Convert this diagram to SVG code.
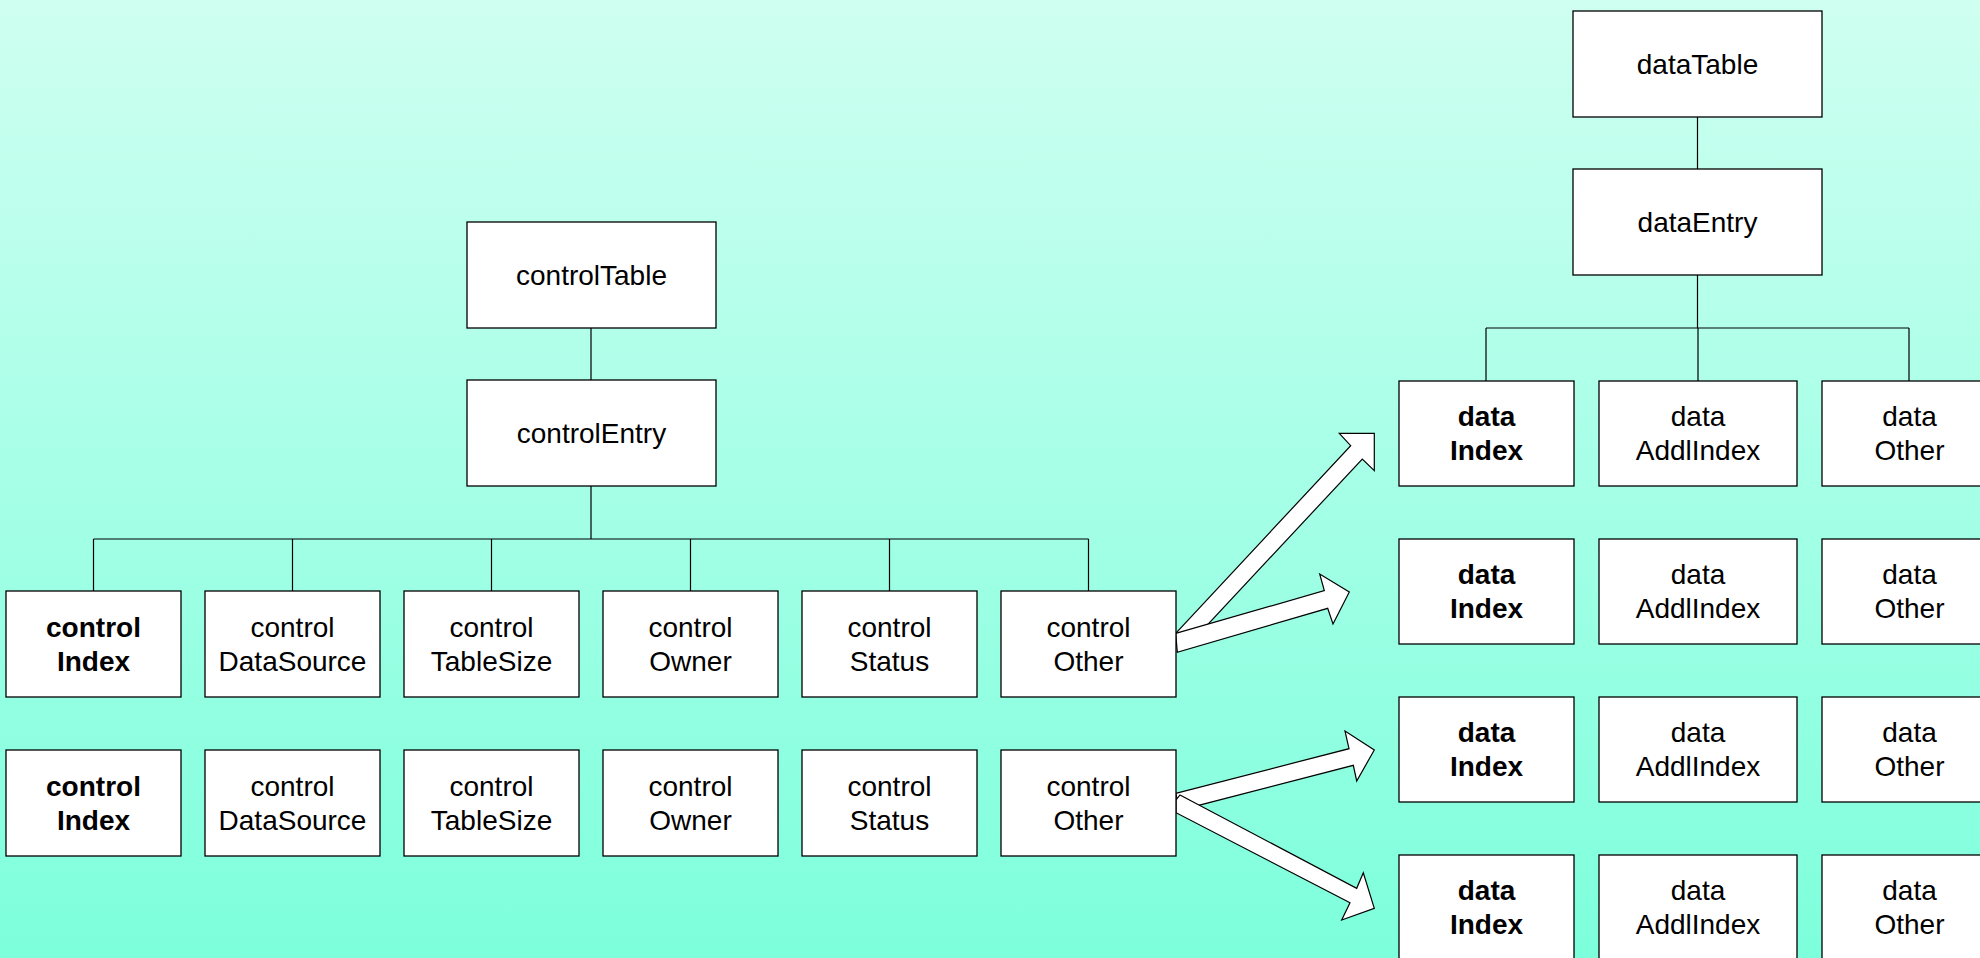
<svg xmlns="http://www.w3.org/2000/svg" width="1980" height="958" viewBox="0 0 1980 958">
<defs>
<linearGradient id="bg" x1="0" y1="0" x2="0" y2="1">
<stop offset="0" stop-color="#CFFFF1"/>
<stop offset="1" stop-color="#7DFFDC"/>
</linearGradient>
</defs>
<style>
.box{fill:#fff;stroke:#000;stroke-width:1.3}
.t{font-family:"Liberation Sans",Arial,sans-serif;font-size:28px;fill:#000;text-anchor:middle}
.b{font-weight:bold}
.ln{stroke:#000;stroke-width:1.2;fill:none}
.arr{fill:#fff;stroke:#000;stroke-width:1.2;stroke-linejoin:miter}
</style>
<rect x="0" y="0" width="1980" height="958" fill="url(#bg)"/>

<g id="connectors">
<path class="ln" d="M591,328V380M591,486V539M93.5,539H1088.5M93.5,539V591M292.5,539V591M491.5,539V591M690.5,539V591M889.5,539V591M1088.5,539V591"/>
<path class="ln" d="M1697.5,117V169M1697.5,275V328M1486,328H1909M1486,328V381M1698,328V381M1909,328V381"/>
<polygon class="arr" points="1175.7,633.3 1350.7,445.7 1339.3,433.3 1374.3,433.3 1374.3,470.7 1362.3,459 1188.5,645.2"/>
<polygon class="arr" points="1175.7,633.3 1324.3,590.7 1319.7,574 1349.3,592 1333,624 1327.7,608.3 1177.3,652.3"/>
<polygon class="arr" points="1175.7,793.3 1349,748.7 1345,731 1374.3,750 1356.7,781 1353.3,765.3 1180,810.2"/>
<polygon class="arr" points="1180,795 1356.7,888.3 1363.3,872.7 1374.3,908.3 1341.7,920 1350,902.7 1176,812.7 1176,800"/>
</g>

<g id="controlTable"><rect class="box" x="467" y="222" width="249" height="106"/><text class="t" x="591.5" y="285">controlTable</text></g>
<g id="controlEntry"><rect class="box" x="467" y="380" width="249" height="106"/><text class="t" x="591.5" y="443">controlEntry</text></g>

<g id="c1-index"><rect class="box" x="6" y="591" width="175" height="106"/><text class="t b" x="93.5" y="637">control</text><text class="t b" x="93.5" y="671">Index</text></g>
<g id="c1-datasource"><rect class="box" x="205" y="591" width="175" height="106"/><text class="t" x="292.5" y="637">control</text><text class="t" x="292.5" y="671">DataSource</text></g>
<g id="c1-tablesize"><rect class="box" x="404" y="591" width="175" height="106"/><text class="t" x="491.5" y="637">control</text><text class="t" x="491.5" y="671">TableSize</text></g>
<g id="c1-owner"><rect class="box" x="603" y="591" width="175" height="106"/><text class="t" x="690.5" y="637">control</text><text class="t" x="690.5" y="671">Owner</text></g>
<g id="c1-status"><rect class="box" x="802" y="591" width="175" height="106"/><text class="t" x="889.5" y="637">control</text><text class="t" x="889.5" y="671">Status</text></g>
<g id="c1-other"><rect class="box" x="1001" y="591" width="175" height="106"/><text class="t" x="1088.5" y="637">control</text><text class="t" x="1088.5" y="671">Other</text></g>

<g id="c2-index"><rect class="box" x="6" y="750" width="175" height="106"/><text class="t b" x="93.5" y="796">control</text><text class="t b" x="93.5" y="830">Index</text></g>
<g id="c2-datasource"><rect class="box" x="205" y="750" width="175" height="106"/><text class="t" x="292.5" y="796">control</text><text class="t" x="292.5" y="830">DataSource</text></g>
<g id="c2-tablesize"><rect class="box" x="404" y="750" width="175" height="106"/><text class="t" x="491.5" y="796">control</text><text class="t" x="491.5" y="830">TableSize</text></g>
<g id="c2-owner"><rect class="box" x="603" y="750" width="175" height="106"/><text class="t" x="690.5" y="796">control</text><text class="t" x="690.5" y="830">Owner</text></g>
<g id="c2-status"><rect class="box" x="802" y="750" width="175" height="106"/><text class="t" x="889.5" y="796">control</text><text class="t" x="889.5" y="830">Status</text></g>
<g id="c2-other"><rect class="box" x="1001" y="750" width="175" height="106"/><text class="t" x="1088.5" y="796">control</text><text class="t" x="1088.5" y="830">Other</text></g>

<g id="dataTable"><rect class="box" x="1573" y="11" width="249" height="106"/><text class="t" x="1697.5" y="74">dataTable</text></g>
<g id="dataEntry"><rect class="box" x="1573" y="169" width="249" height="106"/><text class="t" x="1697.5" y="232">dataEntry</text></g>

<g id="d1-index"><rect class="box" x="1399" y="381" width="175" height="105"/><text class="t b" x="1486.5" y="426">data</text><text class="t b" x="1486.5" y="460">Index</text></g>
<g id="d1-addl"><rect class="box" x="1599" y="381" width="198" height="105"/><text class="t" x="1698" y="426">data</text><text class="t" x="1698" y="460">AddlIndex</text></g>
<g id="d1-other"><rect class="box" x="1822" y="381" width="175" height="105"/><text class="t" x="1909.5" y="426">data</text><text class="t" x="1909.5" y="460">Other</text></g>

<g id="d2-index"><rect class="box" x="1399" y="539" width="175" height="105"/><text class="t b" x="1486.5" y="584">data</text><text class="t b" x="1486.5" y="618">Index</text></g>
<g id="d2-addl"><rect class="box" x="1599" y="539" width="198" height="105"/><text class="t" x="1698" y="584">data</text><text class="t" x="1698" y="618">AddlIndex</text></g>
<g id="d2-other"><rect class="box" x="1822" y="539" width="175" height="105"/><text class="t" x="1909.5" y="584">data</text><text class="t" x="1909.5" y="618">Other</text></g>

<g id="d3-index"><rect class="box" x="1399" y="697" width="175" height="105"/><text class="t b" x="1486.5" y="742">data</text><text class="t b" x="1486.5" y="776">Index</text></g>
<g id="d3-addl"><rect class="box" x="1599" y="697" width="198" height="105"/><text class="t" x="1698" y="742">data</text><text class="t" x="1698" y="776">AddlIndex</text></g>
<g id="d3-other"><rect class="box" x="1822" y="697" width="175" height="105"/><text class="t" x="1909.5" y="742">data</text><text class="t" x="1909.5" y="776">Other</text></g>

<g id="d4-index"><rect class="box" x="1399" y="855" width="175" height="105"/><text class="t b" x="1486.5" y="900">data</text><text class="t b" x="1486.5" y="934">Index</text></g>
<g id="d4-addl"><rect class="box" x="1599" y="855" width="198" height="105"/><text class="t" x="1698" y="900">data</text><text class="t" x="1698" y="934">AddlIndex</text></g>
<g id="d4-other"><rect class="box" x="1822" y="855" width="175" height="105"/><text class="t" x="1909.5" y="900">data</text><text class="t" x="1909.5" y="934">Other</text></g>
</svg>
